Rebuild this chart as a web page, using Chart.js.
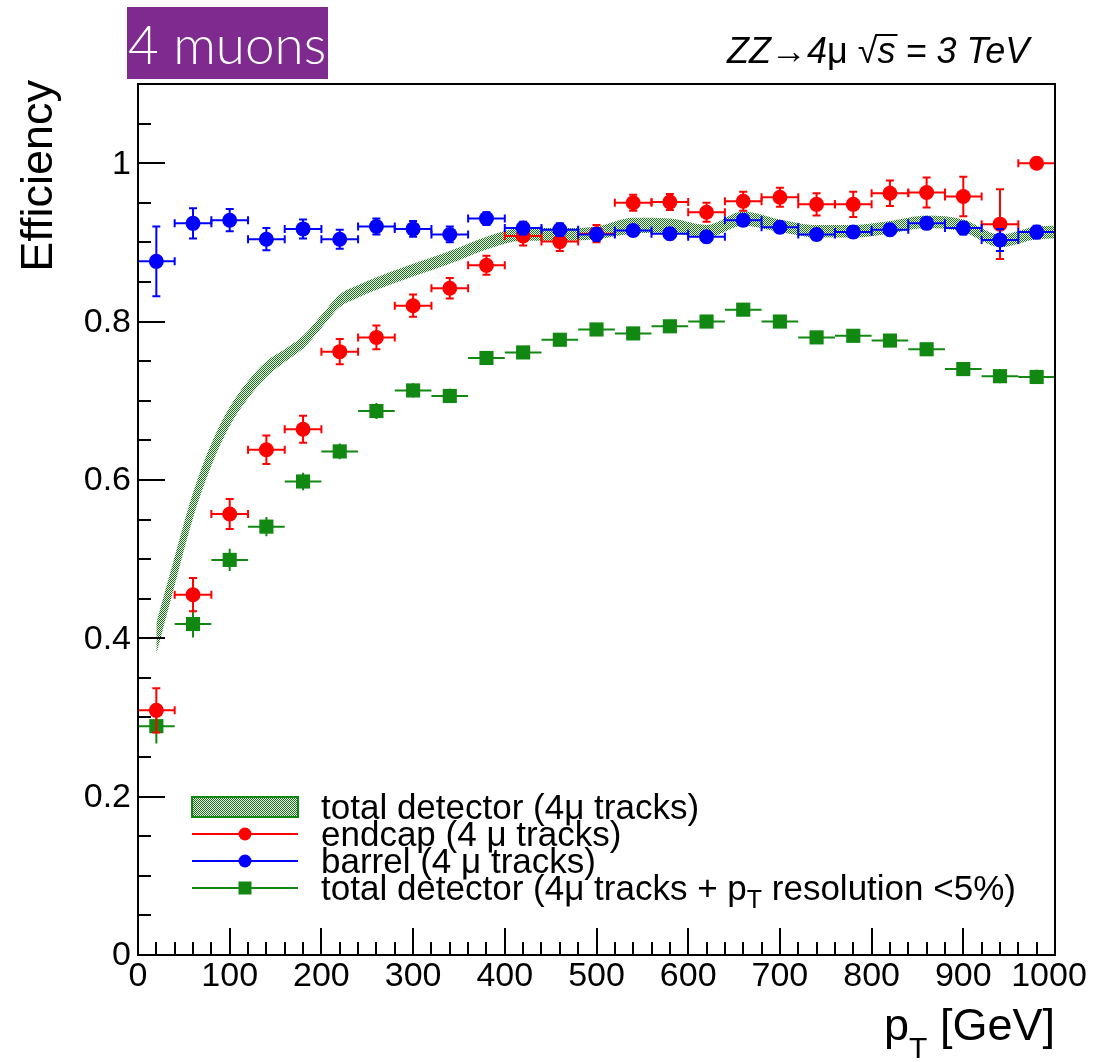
<!DOCTYPE html>
<html>
<head>
<meta charset="utf-8">
<script src="https://cdn.jsdelivr.net/npm/chart.js@4.4.1/dist/chart.umd.min.js"></script>
<style>
  body { margin: 0; background: #fff; }
  #wrap { width: 1097px; height: 1062px; }
</style>
</head>
<body>
<div id="wrap"><canvas id="effChart" width="1097" height="1062"></canvas></div>
<script>
// bin centres (40 GeV wide bins)
const binX = [20, 60, 100, 140, 180, 220, 260, 300, 340, 380, 420, 460, 500,
              540, 580, 620, 660, 700, 740, 780, 820, 860, 900, 940, 980];
const binHalfWidth = 20;

const barrelEff = [0.876, 0.924, 0.928, 0.904, 0.917, 0.904, 0.920, 0.917, 0.910, 0.930, 0.918, 0.916, 0.910,
                   0.915, 0.911, 0.907, 0.928, 0.919, 0.910, 0.913, 0.916, 0.924, 0.918, 0.903, 0.913];
const barrelErr = [0.044, 0.019, 0.014, 0.014, 0.012, 0.012, 0.010, 0.010, 0.010, 0.008, 0.008, 0.008, 0.008,
                   0.007, 0.007, 0.007, 0.007, 0.007, 0.007, 0.007, 0.007, 0.007, 0.008, 0.014, 0.008];

const endcapEff = [0.309, 0.455, 0.557, 0.638, 0.664, 0.762, 0.780, 0.820, 0.842, 0.871, 0.908, 0.901, 0.911,
                   0.950, 0.951, 0.938, 0.952, 0.957, 0.948, 0.948, 0.962, 0.963, 0.958, 0.923, 1.0];
const endcapErr = [0.028, 0.021, 0.019, 0.018, 0.017, 0.016, 0.015, 0.014, 0.013, 0.012, 0.012, 0.012, 0.011,
                   0.010, 0.010, 0.012, 0.012, 0.012, 0.014, 0.016, 0.016, 0.019, 0.025, 0.044, 0.0];

const resoEff = [0.289, 0.418, 0.499, 0.541, 0.598, 0.636, 0.687, 0.713, 0.706, 0.754, 0.761, 0.777, 0.790,
                 0.785, 0.794, 0.800, 0.815, 0.800, 0.780, 0.782, 0.776, 0.765, 0.740, 0.731, 0.730];
const resoErr = [0.022, 0.017, 0.014, 0.012, 0.011, 0.010, 0.010, 0.009, 0.009, 0.008, 0.007, 0.007, 0.007,
                 0.007, 0.007, 0.007, 0.007, 0.007, 0.007, 0.007, 0.007, 0.008, 0.008, 0.009, 0.009];

// total detector band (smoothed)
const bandX    = [20, 40, 60, 80, 100, 120, 140, 160, 180, 200, 220, 240, 260, 300, 340, 380,
                  420, 460, 500, 540, 580, 620, 660, 700, 740, 780, 820, 860, 900, 940, 980, 1000];
const bandLow  = [0.380, 0.467, 0.552, 0.618, 0.668, 0.703, 0.730, 0.749, 0.766, 0.792, 0.818, 0.830, 0.840, 0.857, 0.873, 0.891,
                  0.902, 0.902, 0.904, 0.911, 0.912, 0.906, 0.921, 0.913, 0.906, 0.906, 0.911, 0.918, 0.913, 0.894, 0.904, 0.905];
const bandHigh = [0.420, 0.503, 0.584, 0.646, 0.692, 0.725, 0.750, 0.765, 0.782, 0.808, 0.834, 0.846, 0.856, 0.873, 0.889, 0.907,
                  0.918, 0.918, 0.920, 0.931, 0.930, 0.922, 0.939, 0.929, 0.922, 0.922, 0.927, 0.934, 0.929, 0.910, 0.920, 0.921];

const xMajorTicks = [0, 100, 200, 300, 400, 500, 600, 700, 800, 900, 1000];
const xTickLabels = ['0', '100', '200', '300', '400', '500', '600', '700', '800', '900', '1000'];
const yMajorTicks = [0, 0.2, 0.4, 0.6, 0.8, 1.0];
const yTickLabels = ['0', '0.2', '0.4', '0.6', '0.8', '1'];

const legendLabels = ['total detector (4\u03bc tracks)', 'endcap (4 \u03bc tracks)', 'barrel (4 \u03bc tracks)',
                      'total detector (4\u03bc tracks + p'];

const GREEN = '#118811';
const HATCH_GREEN = '#0b7a0b';
const RED = '#ff0000';
const BLUE = '#0000ff';

function makeHatch() {
    const c = document.createElement('canvas');
    c.width = 2; c.height = 2;
    const g = c.getContext('2d');
    g.fillStyle = '#ffffff';
    g.fillRect(0, 0, 2, 2);
    g.fillStyle = HATCH_GREEN;
    g.fillRect(0, 0, 1, 1);
    g.fillRect(1, 1, 1, 1);
    return document.getElementById('effChart').getContext('2d').createPattern(c, 'repeat');
}
const hatch = makeHatch();

const pts = (xs, ys) => xs.map((x, i) => ({ x: x, y: ys[i] }));

const SANS = '"Liberation Sans", Arial, Helvetica, sans-serif';

// error bars, ticks, frame, legend, labels
const rootStyle = {
    id: 'rootStyle',
    beforeDatasetDraw(chart, args) {
        const ds = chart.data.datasets[args.index];
        if (!ds.errY) return;
        const { ctx, chartArea, scales: { x, y } } = chart;
        ctx.save();
        ctx.beginPath();
        ctx.rect(chartArea.left, chartArea.top, chartArea.right - chartArea.left, chartArea.bottom - chartArea.top);
        ctx.clip();
        ctx.strokeStyle = ds.borderColor;
        ctx.lineWidth = 2;
        const cap = ds.capSize;
        ds.data.forEach((p, i) => {
            const px = x.getPixelForValue(p.x), py = y.getPixelForValue(p.y);
            const xl = x.getPixelForValue(p.x - binHalfWidth), xr = x.getPixelForValue(p.x + binHalfWidth);
            const yt = y.getPixelForValue(p.y + ds.errY[i]), yb = y.getPixelForValue(p.y - ds.errY[i]);
            ctx.beginPath();
            ctx.moveTo(xl, py); ctx.lineTo(xr, py);
            ctx.moveTo(px, yt); ctx.lineTo(px, yb);
            if (cap > 0) {
                ctx.moveTo(xl, py - cap); ctx.lineTo(xl, py + cap);
                ctx.moveTo(xr, py - cap); ctx.lineTo(xr, py + cap);
                if (ds.errY[i] > 0) {
                    ctx.moveTo(px - cap, yt); ctx.lineTo(px + cap, yt);
                    ctx.moveTo(px - cap, yb); ctx.lineTo(px + cap, yb);
                }
            }
            ctx.stroke();
        });
        ctx.restore();
    },
    afterDraw(chart) {
        const { ctx, chartArea: a, scales: { x, y } } = chart;
        ctx.save();
        // frame
        ctx.strokeStyle = '#000';
        ctx.lineWidth = 2;
        ctx.strokeRect(a.left, a.top, a.right - a.left, a.bottom - a.top);

        // y ticks
        ctx.beginPath();
        for (let v = 0; v <= 1.1001; v += 0.05) {
            const py = Math.round(y.getPixelForValue(v));
            const major = Math.abs(v * 5 - Math.round(v * 5)) < 1e-6;
            ctx.moveTo(a.left, py); ctx.lineTo(a.left + (major ? 27 : 13), py);
        }
        // x ticks
        for (let v = 0; v <= 1000; v += 20) {
            const px = Math.round(x.getPixelForValue(v));
            const major = v % 100 === 0;
            ctx.moveTo(px, a.bottom); ctx.lineTo(px, a.bottom - (major ? 27 : 13));
        }
        ctx.stroke();

        // tick labels
        ctx.fillStyle = '#000';
        ctx.font = '34px ' + SANS;
        ctx.textAlign = 'right';
        ctx.textBaseline = 'middle';
        yMajorTicks.forEach((v, i) => ctx.fillText(yTickLabels[i], a.left - 7, y.getPixelForValue(v) + 1));
        ctx.textAlign = 'center';
        ctx.textBaseline = 'alphabetic';
        xMajorTicks.forEach((v, i) => {
            let px = x.getPixelForValue(v);
            if (i === xMajorTicks.length - 1) px -= 6;
            ctx.fillText(xTickLabels[i], px, 986);
        });

        // axis titles
        ctx.save();
        ctx.translate(52, 80);
        ctx.rotate(-Math.PI / 2);
        ctx.font = '45px ' + SANS;
        ctx.textAlign = 'right';
        ctx.fillText('Efficiency', 0, 0);
        ctx.restore();

        ctx.textAlign = 'left';
        ctx.font = '45px ' + SANS;
        const wGeV = ctx.measureText(' [GeV]').width;
        const wP = ctx.measureText('p').width;
        ctx.font = '30px ' + SANS;
        const wT = ctx.measureText('T').width;
        let tx = a.right - wGeV - wT - wP;
        ctx.font = '45px ' + SANS;
        ctx.fillText('p', tx, 1040);
        ctx.font = '30px ' + SANS;
        ctx.fillText('T', tx + wP, 1058);
        ctx.font = '45px ' + SANS;
        ctx.fillText(' [GeV]', tx + wP + wT, 1040);

        // legend
        const rows = [807, 834, 861, 888];
        const sx0 = 192, sx1 = 298, sxm = 245;
        ctx.fillStyle = hatch;
        ctx.fillRect(sx0, rows[0] - 10, sx1 - sx0, 20);
        ctx.strokeStyle = GREEN;
        ctx.lineWidth = 2;
        ctx.strokeRect(sx0, rows[0] - 10, sx1 - sx0, 20);
        const legColors = [null, RED, BLUE, GREEN];
        for (let r = 1; r < 4; r++) {
            ctx.strokeStyle = legColors[r];
            ctx.fillStyle = legColors[r];
            ctx.beginPath();
            ctx.moveTo(sx0, rows[r]); ctx.lineTo(sx1, rows[r]);
            ctx.stroke();
            if (r < 3) {
                ctx.beginPath();
                ctx.arc(sxm, rows[r], 6.5, 0, Math.PI * 2);
                ctx.fill();
            } else {
                ctx.fillRect(sxm - 6.5, rows[r] - 6.5, 13, 13);
            }
        }
        ctx.fillStyle = '#000';
        ctx.font = '35px ' + SANS;
        ctx.textAlign = 'left';
        ctx.textBaseline = 'alphabetic';
        legendLabels.forEach((t, i) => ctx.fillText(t, 321, rows[i] + 12));
        let lx = 321 + ctx.measureText(legendLabels[3]).width;
        ctx.font = '25px ' + SANS;
        ctx.fillText('T', lx, rows[3] + 20);
        lx += ctx.measureText('T').width;
        ctx.font = '35px ' + SANS;
        ctx.fillText(' resolution <5%)', lx, rows[3] + 12);

        // "4 muons" tag
        ctx.fillStyle = '#7f2a8f';
        ctx.fillRect(127, 7, 201, 72);
        ctx.fillStyle = '#fff';
        ctx.font = '300 53px Lato, "Open Sans", sans-serif';
        ctx.textAlign = 'left';
        ctx.fillText('4 muons', 128, 64);

        // process label
        const segs = [['ZZ', 'italic'], ['\u2192', 'normal'], ['4', 'italic'], ['\u03bc ', 'normal'],
                      ['\u221a', 'normal'], ['s', 'italic'], [' = 3 TeV', 'italic']];
        ctx.fillStyle = '#000';
        let sx = 727;
        segs.forEach(([t, st]) => {
            ctx.font = st + ' 36px ' + SANS;
            const w = ctx.measureText(t).width;
            ctx.fillText(t, sx, 63);
            if (t === 's') {
                ctx.fillRect(sx - 2, 34, w + 4, 2);
            }
            sx += w;
        });
        ctx.restore();
    }
};

new Chart(document.getElementById('effChart'), {
    type: 'scatter',
    data: {
        datasets: [
            {
                label: 'total detector (4\u03bc tracks)',
                data: pts(bandX, bandHigh),
                showLine: true,
                borderWidth: 0,
                borderColor: 'rgba(0,0,0,0)',
                pointRadius: 0,
                cubicInterpolationMode: 'monotone',
                fill: '+1',
                backgroundColor: hatch,
                order: 5
            },
            {
                label: 'band low',
                data: pts(bandX, bandLow),
                showLine: true,
                borderWidth: 0,
                borderColor: 'rgba(0,0,0,0)',
                pointRadius: 0,
                cubicInterpolationMode: 'monotone',
                fill: false,
                order: 6
            },
            {
                label: 'endcap (4 \u03bc tracks)',
                data: pts(binX, endcapEff),
                errY: endcapErr,
                capSize: 4,
                borderColor: RED,
                backgroundColor: RED,
                pointStyle: 'circle',
                pointRadius: 7.5,
                borderWidth: 0,
                order: 2
            },
            {
                label: 'barrel (4 \u03bc tracks)',
                data: pts(binX, barrelEff),
                errY: barrelErr,
                capSize: 4,
                borderColor: BLUE,
                backgroundColor: BLUE,
                pointStyle: 'circle',
                pointRadius: 7.5,
                borderWidth: 0,
                order: 1
            },
            {
                label: 'total detector (4\u03bc tracks + pT resolution <5%)',
                data: pts(binX, resoEff),
                errY: resoErr,
                capSize: 0,
                borderColor: GREEN,
                backgroundColor: GREEN,
                pointStyle: 'rect',
                pointRadius: 10,
                borderWidth: 0,
                order: 3
            }
        ]
    },
    options: {
        responsive: false,
        animation: false,
        layout: { padding: { left: 138, right: 42, top: 84, bottom: 107 } },
        scales: {
            x: { type: 'linear', min: 0, max: 1000, display: false },
            y: { type: 'linear', min: 0, max: 1.1, display: false }
        },
        plugins: {
            legend: { display: false },
            tooltip: { enabled: false }
        }
    },
    plugins: [rootStyle]
});
</script>
</body>
</html>
